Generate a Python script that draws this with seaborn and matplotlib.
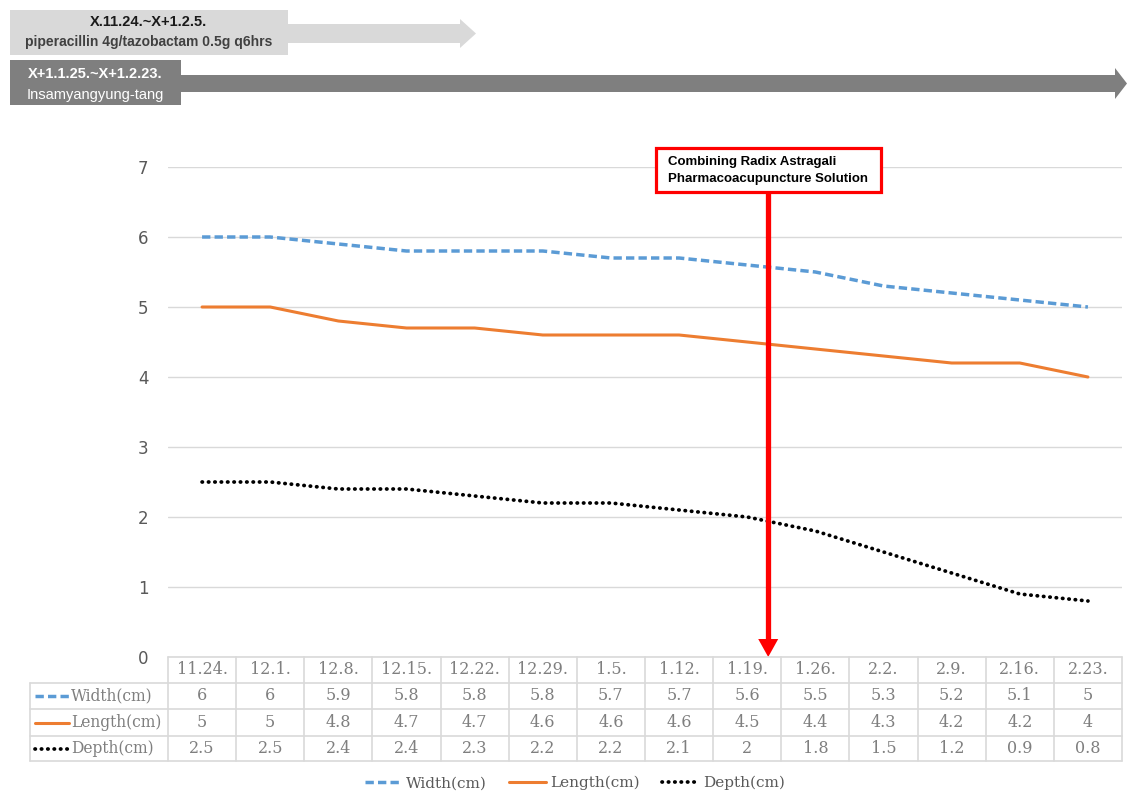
import numpy as np
import pandas as pd
import matplotlib
matplotlib.use("Agg")
import matplotlib.pyplot as plt
import seaborn as sns
from matplotlib.lines import Line2D
from matplotlib.patches import Rectangle, Polygon

# ---------------- data ----------------
dates = ["11.24.", "12.1.", "12.8.", "12.15.", "12.22.", "12.29.", "1.5.",
         "1.12.", "1.19.", "1.26.", "2.2.", "2.9.", "2.16.", "2.23."]
width_cm = [6, 6, 5.9, 5.8, 5.8, 5.8, 5.7, 5.7, 5.6, 5.5, 5.3, 5.2, 5.1, 5]
length_cm = [5, 5, 4.8, 4.7, 4.7, 4.6, 4.6, 4.6, 4.5, 4.4, 4.3, 4.2, 4.2, 4]
depth_cm = [2.5, 2.5, 2.4, 2.4, 2.3, 2.2, 2.2, 2.1, 2, 1.8, 1.5, 1.2, 0.9, 0.8]
series_names = ["Width(cm)", "Length(cm)", "Depth(cm)"]
y_ticks = [0, 1, 2, 3, 4, 5, 6, 7]
banner1 = ["X.11.24.~X+1.2.5.", "piperacillin 4g/tazobactam 0.5g q6hrs"]
banner2 = ["X+1.1.25.~X+1.2.23.", "Insamyangyung-tang"]
note_lines = ["Combining Radix Astragali", "Pharmacoacupuncture Solution"]
note_date = "1.19."

series_values = [width_cm, length_cm, depth_cm]
df = pd.DataFrame({
    "Date": dates * 3,
    "Value": width_cm + length_cm + depth_cm,
    "Series": [s for s in series_names for _ in dates],
})

colors = {"Width(cm)": "#5B9BD5", "Length(cm)": "#ED7D31", "Depth(cm)": "#000000"}
dash_map = {"Width(cm)": (2.4, 1.2), "Length(cm)": "", "Depth(cm)": (0.1, 1.6)}
lw_map = {"Width(cm)": 2.5, "Length(cm)": 2.2, "Depth(cm)": 2.7}
cap_map = {"Width(cm)": "butt", "Length(cm)": "butt", "Depth(cm)": "round"}

W, H = 1127, 794
fig = plt.figure(figsize=(W / 100, H / 100), dpi=100)
sns.set_style("white")
plt.rcParams["font.family"] = ["DejaVu Sans"]

L, R, T, B = 168, 1122, 167, 657
ax = fig.add_axes([L / W, 1 - B / H, (R - L) / W, (B - T) / H])

sns.lineplot(data=df, x="Date", y="Value", hue="Series", style="Series",
             palette=colors, dashes=dash_map, linewidth=2.3, sort=False,
             ax=ax)
for line, name in zip(ax.lines[:3], series_names):
    line.set_linewidth(lw_map[name])
    line.set_dash_capstyle(cap_map[name])
ax.set_xlim(-0.5, len(dates) - 0.5)
ax.set_ylim(0, 7)
ax.set_yticks(y_ticks)
ax.set_yticklabels([str(v) for v in y_ticks], fontsize=12, color="#595959")
ax.tick_params(axis="y", length=0, pad=14)
ax.set_xticks([])
ax.set_xlabel("")
ax.set_ylabel("")
for s in ax.spines.values():
    s.set_visible(False)
ax.yaxis.grid(True, color="#d9d9d9", linewidth=1)
ax.set_axisbelow(True)

sns.move_legend(ax, "center", bbox_to_anchor=(575 / W, 1 - 783 / H),
                bbox_transform=fig.transFigure, ncol=3, frameon=False,
                title=None, prop={"family": "DejaVu Serif", "size": 11},
                labelcolor="#595959", handlelength=2.4, columnspacing=1.5,
                handletextpad=0.25)
leg = ax.get_legend()
for h, name in zip(leg.get_lines(), series_names):
    h.set_linewidth(lw_map[name])
    h.set_dash_capstyle(cap_map[name])

# ---------------- overlay in pixel coordinates ----------------
ov = fig.add_axes([0, 0, 1, 1], zorder=5)
ov.set_xlim(0, W)
ov.set_ylim(H, 0)
ov.axis("off")
ov.patch.set_alpha(0)

gc = "#d9d9d9"
n = len(dates)
colw = (R - L) / n
rows_y = [657, 683, 709, 736, 761]
lab_left = 30
ov.plot([L, R], [rows_y[0], rows_y[0]], color=gc, lw=1.2)
for yy in rows_y[1:]:
    ov.plot([lab_left, R], [yy, yy], color=gc, lw=1.2)
ov.plot([lab_left, lab_left], [rows_y[1], rows_y[-1]], color=gc, lw=1.2)
for i in range(n + 1):
    xx = L + i * colw
    ov.plot([xx, xx], [rows_y[0], rows_y[-1]], color=gc, lw=1.2)

tfont = dict(family="DejaVu Serif", size=11.5, color="#7f7f7f")
hy = (rows_y[0] + rows_y[1]) / 2
for i, d in enumerate(dates):
    ov.text(L + (i + 0.5) * colw, hy, d, ha="center", va="center", **tfont)
for r, (name, vals) in enumerate(zip(series_names, series_values)):
    cy = (rows_y[r + 1] + rows_y[r + 2]) / 2
    for i, v in enumerate(vals):
        ov.text(L + (i + 0.5) * colw, cy, f"{v:g}", ha="center", va="center", **tfont)
    ln = Line2D([35, 69], [cy, cy], color=colors[name], lw=lw_map[name],
                dash_capstyle=cap_map[name])
    if dash_map[name]:
        ln.set_dashes(dash_map[name])
    ov.add_line(ln)
    ov.text(71, cy, name, ha="left", va="center",
            family="DejaVu Serif", size=11.2, color="#7f7f7f")

# ---------------- banners ----------------
light = "#d9d9d9"
dark = "#7f7f7f"
bfont = "Liberation Sans"
ov.add_patch(Polygon([[288, 24], [460, 24], [460, 19], [476, 33.5], [460, 48], [460, 43], [288, 43]],
                     closed=True, facecolor=light, edgecolor="none"))
ov.add_patch(Rectangle((10, 10), 278, 45, facecolor=light, edgecolor="none"))
ov.text(149, 22, banner1[0], ha="center", va="center", fontsize=10.5,
        fontweight="bold", color="#1a1a1a", family=bfont)
ov.text(149, 42, banner1[1], ha="center", va="center", fontsize=10,
        fontweight="bold", color="#404040", family=bfont)

ov.add_patch(Polygon([[181, 75], [1115, 75], [1115, 68], [1127, 83.5], [1115, 99], [1115, 92], [181, 92]],
                     closed=True, facecolor=dark, edgecolor="none"))
ov.add_patch(Rectangle((10, 60), 171, 45, facecolor=dark, edgecolor="none"))
ov.text(95, 74, banner2[0], ha="center", va="center", fontsize=10.5,
        fontweight="bold", color="white", family=bfont)
ov.text(95, 95, banner2[1], ha="center", va="center", fontsize=10.5,
        color="white", family=bfont)

# ---------------- red annotation ----------------
xi = L + (dates.index(note_date) + 0.5) * colw + 21
red = "#ff0000"
ov.add_patch(Rectangle((656, 148), 225, 44, facecolor="white", edgecolor=red, lw=2.3))
ov.text(668, 162, note_lines[0], ha="left", va="center", fontsize=9.5,
        fontweight="bold", color="black", family=bfont)
ov.text(668, 179, note_lines[1], ha="left", va="center", fontsize=9.5,
        fontweight="bold", color="black", family=bfont)
ov.plot([xi, xi], [193, 641], color=red, lw=3.8, solid_capstyle="butt")
ov.add_patch(Polygon([[xi - 10, 639], [xi + 10, 639], [xi, 657]], closed=True,
                     facecolor=red, edgecolor="none"))

fig.savefig("out.png", dpi=100)
